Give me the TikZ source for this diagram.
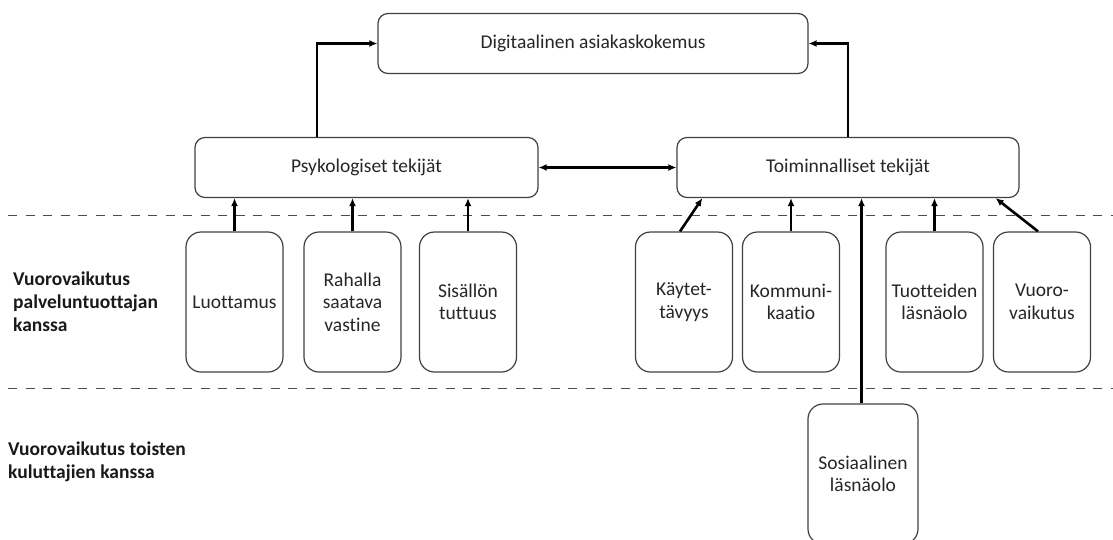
\documentclass[tikz,border=0pt]{standalone}
\usepackage{fontspec}
\setmainfont{Carlito}[Ligatures=CommonOff]
\usetikzlibrary{arrows.meta,calc}
\begin{document}
\begin{tikzpicture}[x=1pt,y=-1pt,
  box/.style={draw=black!75, line width=1.2pt, rounded corners=10pt, text=black!85,
    font=\fontsize{19.5}{22.5}\selectfont, align=center, inner sep=0pt},
  widebox/.style={box, minimum height=60pt},
  tallbox/.style={box, rounded corners=15pt, minimum width=97pt, minimum height=140pt},
  arr/.style={line width=2.6pt, -{Latex[length=8pt,width=7pt]}},
  arrtwo/.style={line width=2.6pt, {Latex[length=8pt,width=7pt]}-{Latex[length=8pt,width=7pt]}},
  sep/.style={draw=black!70, line width=1pt, dash pattern=on 9pt off 8.5pt},
  lbl/.style={font=\fontsize{19.5}{22.8}\selectfont\bfseries, text=black!90, align=left, anchor=west, inner sep=0pt}
]
\useasboundingbox (0,0) rectangle (1113,539);

% separators
\draw[sep] (8,215) -- (1113,215);
\draw[sep] (8,388) -- (1113,388);

% main boxes
\node[widebox, minimum width=430pt] (top) at (593,43.5) {Digitaalinen asiakaskokemus};
\node[widebox, minimum width=343pt] (psyk) at (366.5,167.5) {Psykologiset tekijät};
\node[widebox, minimum width=342pt] (toim) at (848,167.5) {Toiminnalliset tekijät};

% lower boxes
\node[tallbox] (luot) at (234.5,302) {Luottamus};
\node[tallbox] (raha) at (352.5,302) {Rahalla\\saatava\\vastine};
\node[tallbox] (sis) at (468,302) {Sisällön\\tuttuus};
\node[tallbox] (kay) at (684,302) {Käytet-\\tävyys};
\node[tallbox] (kom) at (791,302) {Kommuni-\\kaatio};
\node[tallbox] (tuo) at (934.5,302) {Tuotteiden\\läsnäolo};
\node[tallbox] (vuo) at (1042,302) {Vuoro-\\vaikutus};
\node[tallbox, minimum width=110pt] (sos) at (863,474) {Sosiaalinen\\läsnäolo};

% row labels
\node[lbl] (lab1) at (13,302) {Vuorovaikutus\\palveluntuottajan\\kanssa};
\node[lbl] (lab2) at (8,462) {Vuorovaikutus toisten\\kuluttajien kanssa};

% connectors
\draw[arr] ([xshift=-49.5pt]psyk.north) |- (top.west);
\draw[arr] (toim.north) |- (top.east);
\draw[arrtwo] (psyk.east) -- (toim.west);

\draw[arr] (luot.north) -- (luot.north |- psyk.south);
\draw[arr] (raha.north) -- (raha.north |- psyk.south);
\draw[arr] (sis.north) -- (sis.north |- psyk.south);

\draw[arr] ([xshift=-4pt]kay.north) -- ([xshift=26pt]toim.south west);
\draw[arr] (kom.north) -- (kom.north |- toim.south);
\draw[arr] ([xshift=-1.5pt]sos.north) -- ([xshift=-1.5pt]sos.north |- toim.south);
\draw[arr] (tuo.north) -- (tuo.north |- toim.south);
\draw[arr] ([xshift=-4pt]vuo.north) -- ([xshift=-24pt]toim.south east);
\end{tikzpicture}
\end{document}
